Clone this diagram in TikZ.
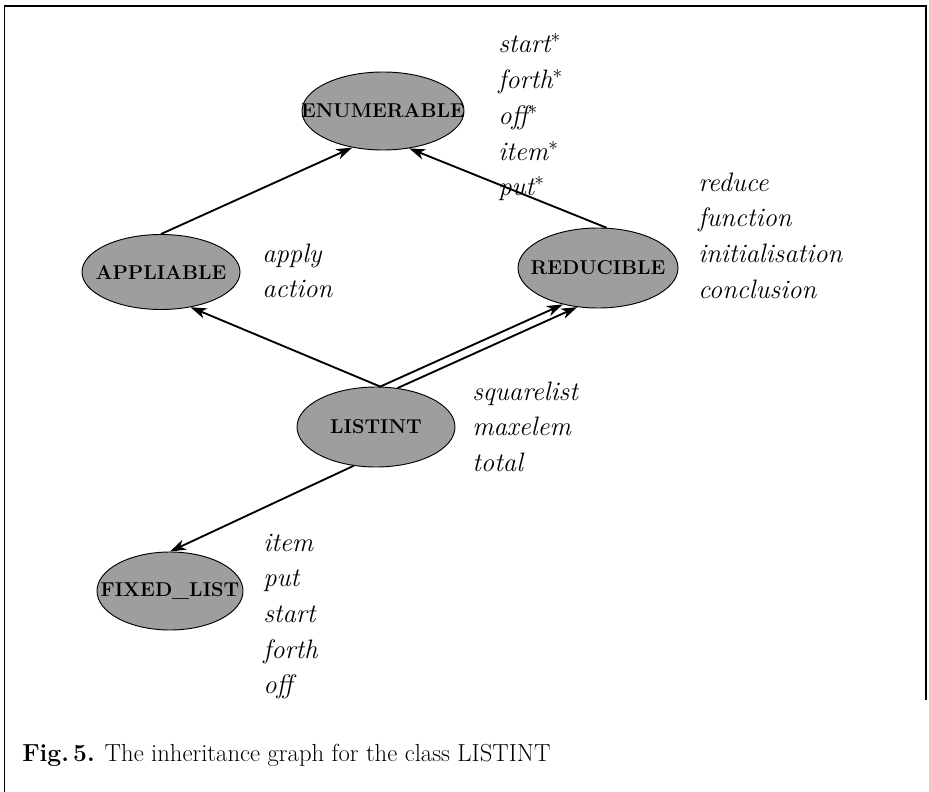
\documentclass[tikz,border=0pt]{standalone}
\usetikzlibrary{shapes.geometric,arrows.meta}
\begin{document}
\begin{tikzpicture}[x=0.75pt,y=-0.75pt,
  cls/.style={ellipse, draw=black, line width=0.7pt, fill=black!38, inner sep=0pt,
    font=\fontsize{15}{16}\selectfont\bfseries},
  lbl/.style={anchor=base west, inner sep=0pt, font=\fontsize{20}{24}\selectfont\itshape},
  inh/.style={line width=1.4pt, -{Stealth[length=12pt,width=8pt,inset=3.5pt]}},
  frame/.style={line width=1.2pt}]
\useasboundingbox (0,0) rectangle (929,792);
\draw[frame] (4.5,792) -- (4.5,6) -- (926,6) -- (926,700);

\node[cls, minimum width=121.5pt, minimum height=58.5pt] (enum) at (383,111) {\makebox[0pt]{ENUMERABLE}};
\node[cls, minimum width=118.5pt, minimum height=56.25pt] (app) at (161,272) {\makebox[0pt]{APPLIABLE}};
\node[cls, minimum width=120pt, minimum height=60pt] (red) at (598,268) {\makebox[0pt]{REDUCIBLE}};
\node[cls, minimum width=118.5pt, minimum height=60pt] (list) at (376,427) {\makebox[0pt]{LISTINT}};
\node[cls, minimum width=109.5pt, minimum height=58.5pt] (fix) at (170,591) {\makebox[0pt]{FIXED\_LIST}};

\foreach \w [count=\i] in {start$^*$, forth$^*$, off$^*$, item$^*$, put$^*$}
  \node[lbl] (enumop\i) at (498,{53+35.7*(\i-1)}) {\w};
\foreach \w [count=\i] in {reduce, function, initialisation, conclusion}
  \node[lbl] (redop\i) at (698,{191+35.7*(\i-1)}) {\w};
\foreach \w [count=\i] in {apply, action}
  \node[lbl] (appop\i) at (262,{262+35.7*(\i-1)}) {\w};
\foreach \w [count=\i] in {squarelist, maxelem, total}
  \node[lbl] (listop\i) at (472,{400+35.7*(\i-1)}) {\w};
\foreach \w [count=\i] in {item, put, start, forth, off}
  \node[lbl] (fixop\i) at (263,{551+35.7*(\i-1)}) {\w};

\draw[inh] (app.north) -- (enum.230);
\draw[inh] (red.78) -- (enum.305);
\draw[inh] (list.84) -- (app.310);
\draw[inh] (list.84) -- (red.226);
\draw[inh] (list.61) -- (red.242);
\draw[inh] (list.240) -- (fix.north);

\node[anchor=base west, inner sep=0pt, font=\fontsize{18.5}{22}\selectfont] (cap) at (22,761)
  {\textbf{Fig.\,5.} The inheritance graph for the class LISTINT};
\end{tikzpicture}
\end{document}
